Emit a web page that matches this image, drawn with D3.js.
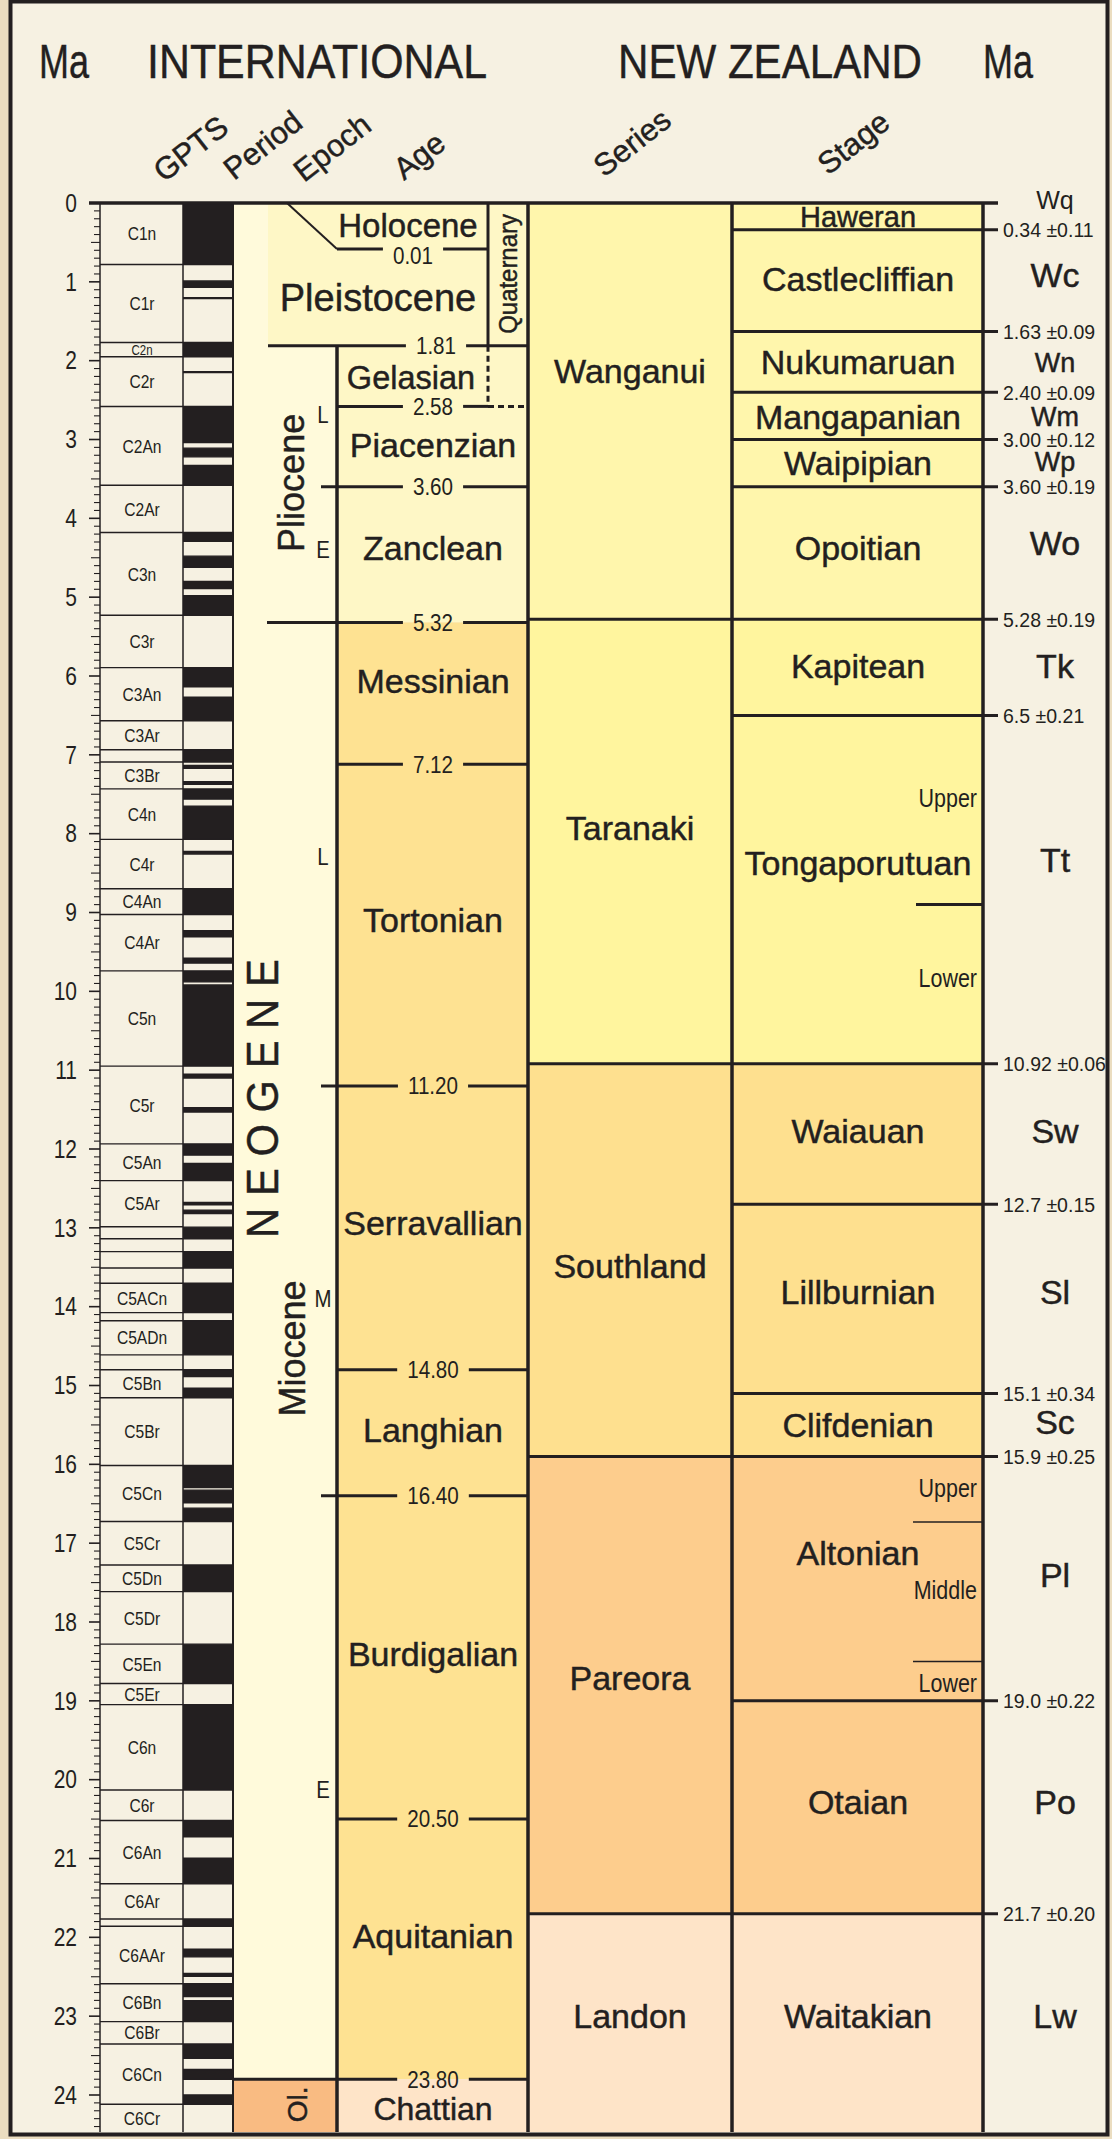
<!DOCTYPE html>
<html><head><meta charset="utf-8">
<script src="https://cdn.jsdelivr.net/npm/d3@7"></script>
<style>body{margin:0;background:#EBDDC0} svg{display:block}</style>
</head><body><svg id="c" width="1112" height="2139"></svg>
<script>
// ---------------- DATA ----------------
const chartBottomMa = 24.47;
const tickValues = d3.range(0, 25);

// GPTS chrons (Cande & Kent 1995): name and base age (Ma)
const chronNames = ["C1n","C1r","C2n","C2r","C2An","C2Ar","C3n","C3r","C3An","C3Ar","","C3Br","C4n","C4r","C4An","C4Ar","C5n","C5r","C5An","C5Ar","","","","","C5ACn","","C5ADn","","C5Bn","C5Br","C5Cn","C5Cr","C5Dn","C5Dr","C5En","C5Er","C6n","C6r","C6An","C6Ar","","C6AAr","C6Bn","C6Br","C6Cn","C6Cr"];
const chronBase = [0.78,1.77,1.95,2.581,3.58,4.18,5.23,5.894,6.567,6.935,7.091,7.432,8.072,8.699,9.025,9.74,10.949,11.935,12.401,12.987,13.139,13.302,13.51,13.703,14.076,14.178,14.612,14.8,15.155,16.014,16.726,17.277,17.615,18.281,18.781,19.048,20.131,20.518,21.32,21.768,21.859,22.588,23.069,23.353,24.118,24.73];

// normal polarity intervals
const normalTop  = [0,0.99,1.201,1.77,2.14,2.581,3.11,3.33,4.18,4.48,4.8,4.98,5.894,6.269,6.935,7.135,7.341,7.432,7.65,8.225,8.699,9.23,9.58,9.74,9.92,11.052,11.476,11.935,12.184,12.678,12.775,12.991,13.302,13.703,14.178,14.8,15.034,16.014,16.327,16.556,17.277,18.281,19.048,20.518,20.996,21.768,22.151,22.459,22.588,22.804,23.353,23.677,23.999];
const normalBase = [0.78,1.07,1.211,1.95,2.15,3.04,3.22,3.58,4.29,4.62,4.89,5.23,6.137,6.567,7.091,7.17,7.375,7.562,8.072,8.257,9.025,9.308,9.642,9.88,10.949,11.099,11.531,12.078,12.401,12.708,12.819,13.139,13.51,14.076,14.612,14.888,15.155,16.293,16.488,16.726,17.615,18.781,20.131,20.725,21.32,21.859,22.248,22.493,22.75,23.069,23.535,23.8,24.118];

// International ages
const ageNames = ["Holocene","Pleistocene","Gelasian","Piacenzian","Zanclean","Messinian","Tortonian","Serravallian","Langhian","Burdigalian","Aquitanian","Chattian"];
const ageTop = [0,0.01,1.81,2.58,3.60,5.32,7.12,11.20,14.80,16.40,20.50,23.80];
const ageTopLabels = ["","0.01","1.81","2.58","3.60","5.32","7.12","11.20","14.80","16.40","20.50","23.80"];
const ageTopRank = ["","holocene","epoch","quaternary","subepoch","epoch","age","subepoch","age","subepoch","age","period"];
const ageLabelMa = [0.28,1.2,2.21,3.07,4.38,6.07,9.1,12.94,15.56,18.41,21.99,24.18];

// Epochs / sub-epochs / periods
const epochNames = ["Pliocene","Miocene","Ol."];
const epochLabelMa = [3.55,14.53,24.12];
const subEpochNames = ["L","E","L","M","E"];
const subEpochMa = [2.69,4.40,8.29,13.9,20.13];
const periodNames = ["Quaternary","N E O G E N E"];
const periodLabelMa = [0.9,11.36];

// New Zealand series
const seriesNames = ["Wanganui","Taranaki","Southland","Pareora","Landon"];
const seriesTop = [0,5.28,10.92,15.9,21.7];
const seriesLabelMa = [2.13,7.93,13.48,18.71,23.0];

// New Zealand stages
const stageNames = ["Haweran","Castlecliffian","Nukumaruan","Mangapanian","Waipipian","Opoitian","Kapitean","Tongaporutuan","Waiauan","Lillburnian","Clifdenian","Altonian","Otaian","Waitakian"];
const stageTop = [0,0.34,1.63,2.40,3.00,3.60,5.28,6.5,10.92,12.7,15.1,15.9,19.0,21.7];
const stageCodes = ["Wq","Wc","Wn","Wm","Wp","Wo","Tk","Tt","Sw","Sl","Sc","Pl","Po","Lw"];
const stageTopLabels = ["","0.34 ±0.11","1.63 ±0.09","2.40 ±0.09","3.00 ±0.12","3.60 ±0.19","5.28 ±0.19","6.5 ±0.21","10.92 ±0.06","12.7 ±0.15","15.1 ±0.34","15.9 ±0.25","19.0 ±0.22","21.7 ±0.20"];
const stageLabelMa = [0.17,0.97,2.02,2.71,3.30,4.38,5.88,8.37,11.77,13.82,15.5,17.12,20.28,23.0];
const codeLabelMa = [-0.04,0.91,2.02,2.71,3.28,4.31,5.88,8.33,11.77,13.82,15.47,17.4,20.28,23.0];
// substage divisions
const substageNames = ["Upper","Lower","Upper","Middle","Lower"];
const substageLabelMa = [7.55,9.83,16.3,17.6,18.78];
const substageBounds = [8.9,16.73,18.5];
const substageBoundRank = ["major","minor","minor"];

// ---------------- STYLE ----------------
const INK = "#231F20";
const FONT = "'Liberation Sans', Arial, Helvetica, sans-serif";
const seriesColor = {Wanganui:"#FFF6AC",Taranaki:"#FFF59E",Southland:"#FEE08F",Pareora:"#FDCD8D",Landon:"#FEE4C8"};
const stageSeries = ["Wanganui","Wanganui","Wanganui","Wanganui","Wanganui","Wanganui","Taranaki","Taranaki","Southland","Southland","Southland","Pareora","Pareora","Landon"];

const W = 1112, H = 2139;
const svg = d3.select("#c");
const y = d3.scaleLinear().domain([0, 24]).range([203, 2095]);
const yEnd = y(chartBottomMa);
const X = {tick:100, chron:183, pol:233, epo:267, sub:321, age:337, quat:488, ser:528, stg:732, stgR:983, out:998};

function txt(sel, x, yy, s, o = {}) {
  const t = sel.append("text")
    .attr("transform", `translate(${x},${yy})${o.rot ? ` rotate(${o.rot})` : ""} scale(${o.sx || 1},1)`)
    .attr("text-anchor", o.anchor || "middle")
    .attr("dy", o.dy !== undefined ? o.dy : "0.35em")
    .attr("font-family", FONT).attr("font-size", o.size || 20).attr("fill", INK)
    .text(s);
  if ((o.size || 20) >= 26) t.attr("stroke", INK).attr("stroke-width", 0.45);
  if (o.ls) t.attr("letter-spacing", o.ls);
  if (o.tl) t.attr("textLength", o.tl).attr("lengthAdjust", "spacingAndGlyphs");
  return t;
}
function line(sel, x1, y1, x2, y2, w, dash) {
  const l = sel.append("line").attr("x1", x1).attr("y1", y1).attr("x2", x2).attr("y2", y2)
    .attr("stroke", INK).attr("stroke-width", w);
  if (dash) l.attr("stroke-dasharray", dash);
  return l;
}

// background & frame
svg.append("rect").attr("width", W).attr("height", H).attr("fill", "#EBDDC0");
svg.append("rect").attr("x", 10.5).attr("y", 1.5).attr("width", 1097).attr("height", 2133)
  .attr("fill", "#F6F1E2").attr("stroke", INK).attr("stroke-width", 4);

// headers
txt(svg, 39, 78, "Ma", {anchor:"start", dy:0, size:49, tl:50});
txt(svg, 147, 78, "INTERNATIONAL", {anchor:"start", dy:0, size:49, tl:340});
txt(svg, 618, 78, "NEW ZEALAND", {anchor:"start", dy:0, size:49, tl:304});
txt(svg, 983, 78, "Ma", {anchor:"start", dy:0, size:49, tl:50});
const colHeads = [["GPTS",164,183],["Period",234,181],["Epoch",304,183],["Age",404,181],["Series",604,178],["Stage",828,176]];
colHeads.forEach(d => txt(svg, d[1], d[2], d[0], {anchor:"start", dy:0, size:31, rot:-38}));

const body = svg.append("g");
svg.append("clipPath").attr("id", "clipBody").append("rect").attr("x", 0).attr("y", 0).attr("width", W).attr("height", yEnd);
body.attr("clip-path", "url(#clipBody)");

// ---------- fills ----------
// period/epoch column
body.append("rect").attr("x", X.pol).attr("y", y(0)).attr("width", X.age - X.pol).attr("height", y(23.8) - y(0)).attr("fill", "#FFFADB");
body.append("rect").attr("x", X.pol).attr("y", y(23.8)).attr("width", X.age - X.pol).attr("height", yEnd - y(23.8)).attr("fill", "#F9BB82");
// ages
body.append("rect").attr("x", 268).attr("y", y(0)).attr("width", X.ser - 268).attr("height", y(1.81) - y(0)).attr("fill", "#FEF7C6");
body.append("rect").attr("x", X.age).attr("y", y(1.81)).attr("width", X.ser - X.age).attr("height", y(5.32) - y(1.81)).attr("fill", "#FEF7C6");
body.append("rect").attr("x", X.age).attr("y", y(5.32)).attr("width", X.ser - X.age).attr("height", y(23.8) - y(5.32)).attr("fill", "#FEE292");
body.append("rect").attr("x", X.age).attr("y", y(23.8)).attr("width", X.ser - X.age).attr("height", yEnd - y(23.8)).attr("fill", "#FEE4C8");
// series
seriesNames.forEach((n, i) => {
  const b = i < seriesTop.length - 1 ? seriesTop[i + 1] : chartBottomMa;
  body.append("rect").attr("x", X.ser).attr("y", y(seriesTop[i])).attr("width", X.stg - X.ser).attr("height", y(b) - y(seriesTop[i])).attr("fill", seriesColor[n]);
});
stageNames.forEach((n, i) => {
  const b = i < stageTop.length - 1 ? stageTop[i + 1] : chartBottomMa;
  body.append("rect").attr("x", X.stg).attr("y", y(stageTop[i])).attr("width", X.stgR - X.stg).attr("height", y(b) - y(stageTop[i])).attr("fill", seriesColor[stageSeries[i]]);
});

// ---------- GPTS ----------
normalTop.forEach((t, i) => {
  body.append("rect").attr("x", X.chron).attr("y", y(t)).attr("width", X.pol - X.chron).attr("height", y(normalBase[i]) - y(t)).attr("fill", INK);
  line(body, X.chron, y(t), X.pol, y(t), 1.4);
  line(body, X.chron, y(normalBase[i]), X.pol, y(normalBase[i]), 1.4);
});
chronNames.forEach((n, i) => {
  const t = i ? chronBase[i - 1] : 0, b = Math.min(chronBase[i], chartBottomMa);
  line(body, X.tick, y(chronBase[i]), X.chron, y(chronBase[i]), 1.4);
  if (n) {
    const h = y(b) - y(t);
    txt(body, 142, (y(t) + y(b)) / 2, n, {size: h < 20 ? 14 : 19, sx: 0.82});
  }
});
line(body, X.tick, y(0), X.tick, yEnd, 1.5);
line(body, X.chron, y(0), X.chron, yEnd, 1.5);
line(body, X.pol, y(0), X.pol, yEnd, 2);

// ticks
d3.range(0, Math.floor(chartBottomMa * 10) + 1).forEach(k => {
  const len = k % 10 === 0 ? 11 : (k % 5 === 0 ? 9 : 6);
  line(body, X.tick - len, y(k / 10), X.tick, y(k / 10), k % 10 === 0 ? 1.6 : 1.1);
});
tickValues.forEach(v => txt(svg, 77, y(v), String(v), {anchor:"end", size:25, sx:0.84}));

// ---------- International: ages ----------
// Holocene special box
line(body, 287, y(0), X.age, 249, 2);
// Quaternary box
line(body, X.quat, y(0), X.quat, y(1.81), 3);
line(body, X.quat, y(1.81), X.quat, y(2.58), 3, "6,4");
txt(body, 508, y(periodLabelMa[0]), periodNames[0], {size:26, rot:-90, sx:0.92});

const rankX = {epoch:267, subepoch:321, age:337, period:233, quaternary:337};
ageTop.forEach((m, i) => {
  const r = ageTopRank[i];
  if (!r) return;
  let yy = y(m), cx = 433, x0 = rankX[r], x1 = X.ser, ly = yy;
  if (r === "holocene") { yy = 249; x0 = X.age; x1 = X.quat; cx = 413; ly = 256; }
  if (r === "epoch" && m < 2) { x0 = 268; cx = 436; }
  if (r === "quaternary") x1 = X.quat;
  const lab = txt(body, cx, ly, ageTopLabels[i], {size:24, sx:0.86});
  const w = lab.node().getComputedTextLength() * 0.86;
  line(body, x0, yy, cx - w / 2 - 10, yy, 3);
  line(body, cx + w / 2 + 10, yy, x1, yy, 3);
  if (r === "quaternary") line(body, X.quat, yy, X.ser, yy, 3, "6,4");
});
line(body, X.age, y(1.81), X.age, yEnd, 3.5);

ageNames.forEach((n, i) => {
  let cx = 433, sz = 34;
  if (n === "Holocene") { cx = 408; sz = 33; }
  if (n === "Pleistocene") { cx = 378; sz = 38; }
  if (n === "Gelasian") { cx = 411; sz = 32.5; }
  if (n === "Chattian") sz = 32;
  txt(body, cx, y(ageLabelMa[i]), n, {size: sz});
});

// epochs & periods
txt(body, 291, y(epochLabelMa[0]), epochNames[0], {size:36, rot:-90});
txt(body, 292, y(epochLabelMa[1]), epochNames[1], {size:36, rot:-90});
txt(body, 297, y(epochLabelMa[2]), epochNames[2], {size:28, rot:-90});
subEpochNames.forEach((n, i) => txt(body, 323, y(subEpochMa[i]), n, {size:24, sx:0.85}));
txt(body, 263, y(periodLabelMa[1]), periodNames[1], {size:44, rot:-90, sx:0.95});

// ---------- New Zealand ----------
seriesNames.forEach((n, i) => {
  if (i) line(body, X.ser, y(seriesTop[i]), X.stg, y(seriesTop[i]), 3);
  txt(body, 630, y(seriesLabelMa[i]), n, {size:34});
});
stageNames.forEach((n, i) => {
  const b = i < stageTop.length - 1 ? stageTop[i + 1] : chartBottomMa;
  const h = y(b) - y(stageTop[i]);
  if (i) {
    line(body, X.stg, y(stageTop[i]), X.out, y(stageTop[i]), 3);
    txt(svg, 1003, y(stageTop[i]), stageTopLabels[i], {anchor:"start", size:21, sx:0.93});
  }
  txt(body, 858, y(stageLabelMa[i]), n, {size: h < 30 ? 29 : 34});
  txt(svg, 1055, y(codeLabelMa[i]), stageCodes[i], {size: h < 30 ? 25 : (h < 62 ? 27 : 34)});
});
substageBounds.forEach((m, i) => {
  const major = substageBoundRank[i] === "major";
  line(body, major ? 916 : 913, y(m), X.stgR, y(m), major ? 3 : 1.5);
});
substageNames.forEach((n, i) => txt(body, 977, y(substageLabelMa[i]), n, {anchor:"end", size:25, sx:0.86}));

// main vertical dividers & top line
line(body, X.ser, y(0), X.ser, yEnd, 3.5);
line(body, X.stg, y(0), X.stg, yEnd, 3.5);
line(body, X.stgR, y(0), X.stgR, yEnd, 3.5);
line(svg, 89, y(0), X.out, y(0), 3.5);
</script></body></html>
